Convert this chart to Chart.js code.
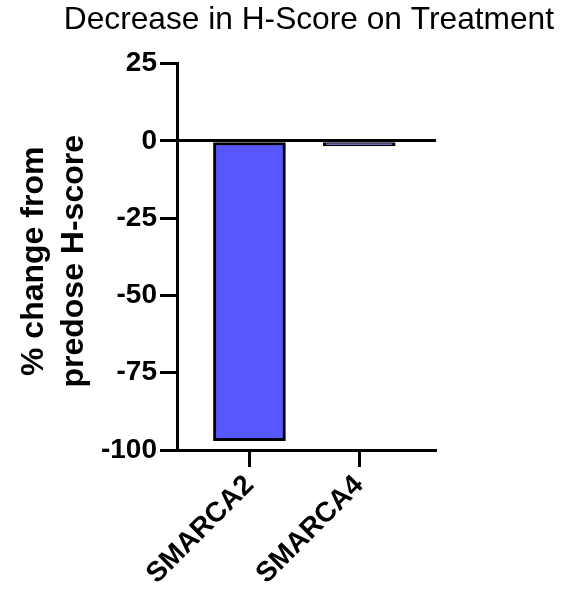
<!DOCTYPE html>
<html>
<head>
<meta charset="utf-8">
<script src="https://cdn.jsdelivr.net/npm/chart.js@4"></script>
<style>
  body { margin: 0; background: #fff; }
</style>
</head>
<body>
<canvas id="chart" width="564" height="593"></canvas>
<script>
// Data
const categories = ['SMARCA2', 'SMARCA4'];
const changeValues = [-97, -1.6];
const yTicks = [25, 0, -25, -50, -75, -100];

const ctx = document.getElementById('chart').getContext('2d');
new Chart(ctx, {
    type: 'bar',
    data: {
        datasets: [{
            data: categories.map((c, i) => ({ x: i, y: changeValues[i] })),
            backgroundColor: '#5757FF',
            borderColor: '#000',
            borderWidth: 3,
            borderSkipped: false,
            barThickness: 72
        }]
    },
    options: {
        responsive: false,
        animation: false,
        layout: { padding: { left: 0, right: 10, top: 0, bottom: 0 } },
        plugins: {
            legend: { display: false },
            tooltip: { enabled: false },
            title: {
                display: true,
                text: 'Decrease in H-Score on Treatment',
                align: 'end',
                color: '#000',
                font: { family: 'Liberation Sans, Arial', size: 31.7, weight: 'normal', lineHeight: 1 },
                padding: { top: 4, bottom: 28 }
            }
        },
        scales: {
            x: {
                type: 'linear',
                offset: false,
                min: -0.66,
                max: 1.7,
                afterBuildTicks: (scale) => { scale.ticks = categories.map((c, i) => ({ value: i })); },
                afterFit: (scale) => { scale.height = 143; },
                border: { color: '#000', width: 3 },
                grid: { offset: false, color: 'transparent', tickColor: '#000', tickLength: 17, tickWidth: 3 },
                ticks: {
                    autoSkip: false,
                    minRotation: 45,
                    maxRotation: 45,
                    padding: 2,
                    color: '#000',
                    font: { family: 'Liberation Sans, Arial', size: 28, weight: 'bold' },
                    callback: (value) => categories[value]
                }
            },
            y: {
                min: -100,
                max: 25,
                afterBuildTicks: (scale) => { scale.ticks = yTicks.map(v => ({ value: v })); },
                afterFit: (scale) => { scale.width = 177; },
                border: { color: '#000', width: 3 },
                grid: {
                    color: (c) => c.tick && c.tick.value === 0 ? '#000' : 'transparent',
                    lineWidth: 3,
                    tickColor: '#000',
                    tickLength: 17,
                    tickWidth: 3
                },
                ticks: {
                    padding: 3,
                    color: '#000',
                    font: { family: 'Liberation Sans, Arial', size: 28, weight: 'bold' }
                },
                title: {
                    display: true,
                    // trailing space nudges the rotated text down a little
                    text: ['% change from ', 'predose H-score '],
                    color: '#000',
                    font: { family: 'Liberation Sans, Arial', size: 32, weight: 'bold', lineHeight: 1.25 },
                    padding: { top: 14, bottom: 0 }
                }
            },
            r: {
                type: 'linear',
                position: 'right',
                display: true,
                afterFit: (scale) => { scale.width = 118; },
                border: { display: false },
                grid: { display: false, drawTicks: false },
                ticks: { display: false }
            }
        }
    }
});
</script>
</body>
</html>
